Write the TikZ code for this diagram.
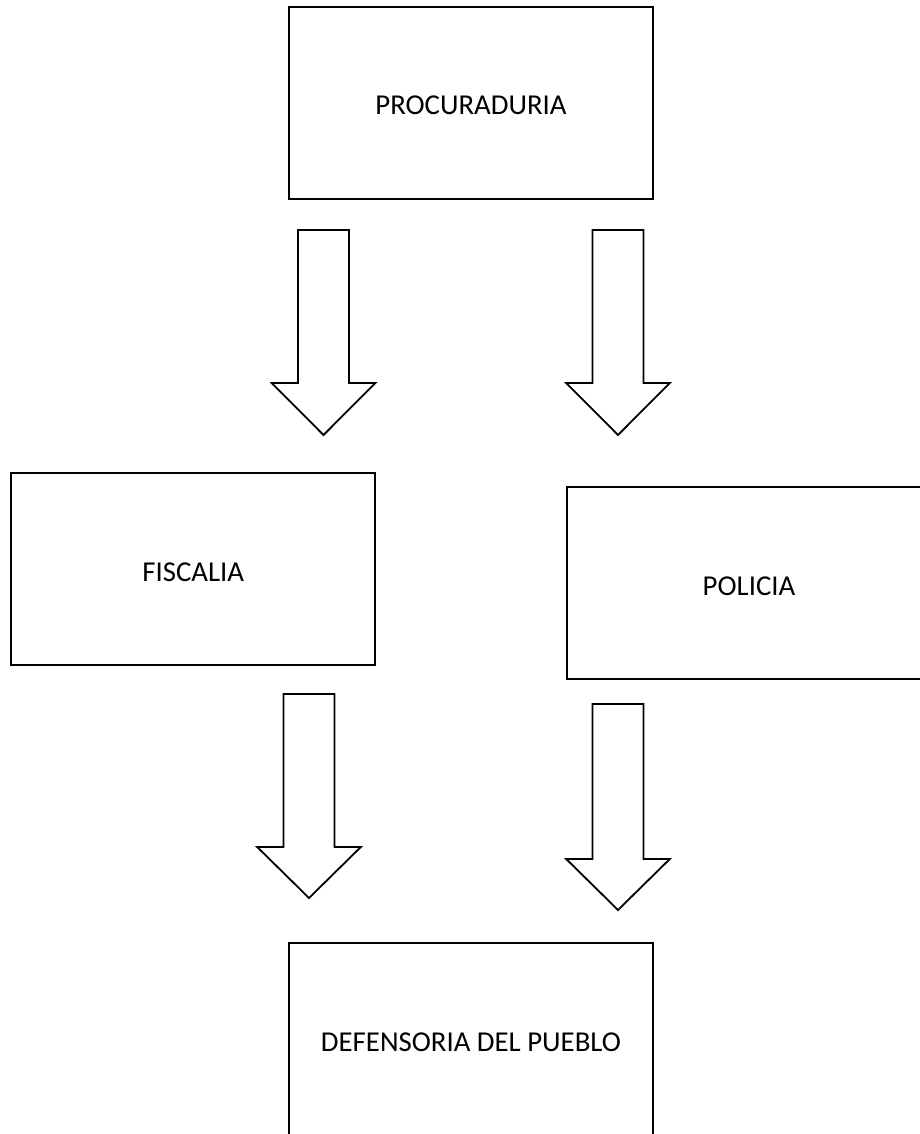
\documentclass[tikz,border=0pt]{standalone}
\usepackage{fontspec}
\setmainfont{Carlito}
\begin{document}
\begin{tikzpicture}[x=1pt,y=-1pt,
  orgbox/.style={draw=black, line width=1.8pt, fill=white, inner sep=0pt,
    minimum width=#1, minimum height=192pt, text height=24pt, text depth=0pt,
    font=\fontsize{28.8pt}{34pt}\selectfont},
  blockarrowstyle/.style={draw=black, line width=1.8pt, line join=miter, fill=white}]
\useasboundingbox[fill=white] (0,0) rectangle (920,1134);
% boxes
\node[orgbox=364pt] (proc) at (471,103) {PROCURADURIA};
\node[orgbox=364pt] (fisc) at (193.3,569) {FISCALIA};
\node[orgbox=364pt] (poli) at (749,583) {POLICIA};
\node[orgbox=364pt] (defe) at (471,1039) {DEFENSORIA DEL PUEBLO};
% block arrows: centre x, top, head base, tip
\newcommand\blockarr[4]{%
  \draw[blockarrowstyle] (#1-25.5,#2) -- (#1+25.5,#2) -- (#1+25.5,#3) -- (#1+51.8,#3)
    -- (#1,#4) -- (#1-51.8,#3) -- (#1-25.5,#3) -- cycle;}
\blockarr{323.5}{230}{383}{435}
\blockarr{618}{230}{383}{435}
\blockarr{309}{694}{847}{898}
\blockarr{618}{704}{859}{910}
\end{tikzpicture}
\end{document}
